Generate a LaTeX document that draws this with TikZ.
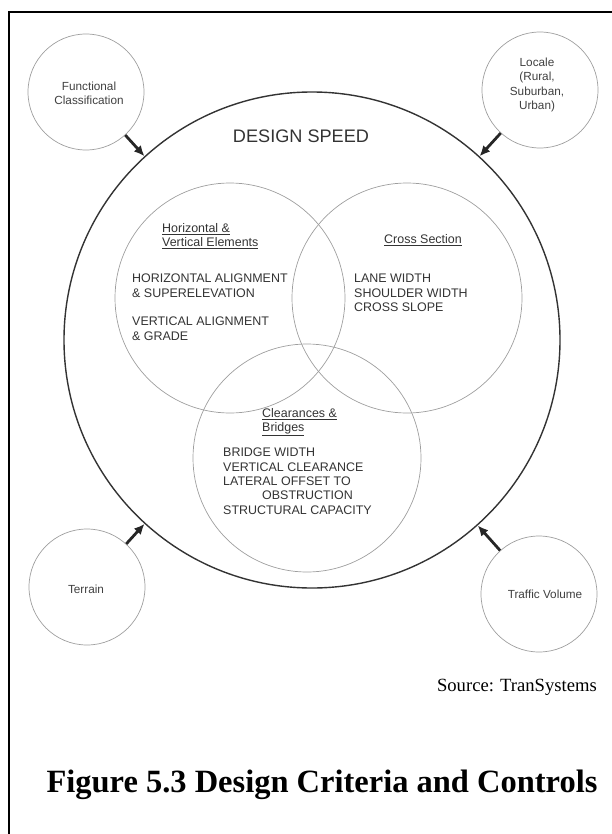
\documentclass[tikz,border=0pt]{standalone}
\usepackage{fontspec}
\setmainfont{Liberation Serif}
\setsansfont{Liberation Sans}
\usetikzlibrary{arrows.meta}
\begin{document}
\begin{tikzpicture}[x=1bp,y=-1bp,
  lite/.style={circle,draw=black!38,line width=0.7bp,inner sep=0pt},
  bigc/.style={circle,draw=black!80,line width=1.4bp,inner sep=0pt,minimum size=496bp},
  ctrl/.style={lite,minimum size=116bp},
  elem/.style={lite,minimum size=230bp},
  arr/.style={draw=black!85,line width=2.8bp,-{Latex[length=10.5bp,width=9.5bp]}},
  lab/.style={font=\sffamily\fontsize{11.8}{14.3}\selectfont,text=black!75,align=center,inner sep=0pt},
  body/.style={font=\sffamily\fontsize{12.5}{14.4}\selectfont,text=black!80,align=left,inner sep=0pt,anchor=north west},
]
\useasboundingbox (0,0) rectangle (612,834);
\draw[line width=2bp,line join=miter] (9,850) -- (9,12) -- (630,12);

\node[bigc] (big) at (312,340) {};
\node[elem] (hv) at (230,298) {};
\node[elem] (cs) at (407,298) {};
\node[lite,minimum size=228bp] (cb) at (307,458) {};
\node[ctrl] (fc) at (86,92) {};
\node[ctrl] (lo) at (540,90) {};
\node[ctrl] (te) at (87,587) {};
\node[ctrl] (tv) at (539,594) {};

\node[lab] (fct) at (89,93) {Functional\\Classification};
\node[lab] (lot) at (537,85) {Locale\\(Rural,\\Suburban,\\Urban)};
\node[lab] (tet) at (86,589) {Terrain};
\node[lab] (tvt) at (545,594) {Traffic Volume};
\node[font=\sffamily\fontsize{18.2}{20}\selectfont,text=black!80] (ds) at (301,136) {DESIGN SPEED};

\draw[arr] (fc) -- (big);
\draw[arr] (lo) -- (big);
\draw[arr] (te) -- (big);
\draw[arr] (tv) -- (big);

\node[body] (hvh) at (162,223) {\underline{Horizontal \&}\\\underline{Vertical Elements}};
\node[body] (hvb) at (132,274) {HORIZONTAL ALIGNMENT\\\& SUPERELEVATION\\[14.4bp]VERTICAL ALIGNMENT\\\& GRADE};
\node[body,anchor=north] (csh) at (423,234) {\underline{Cross Section}};
\node[body] (csb) at (354,274) {LANE WIDTH\\SHOULDER WIDTH\\CROSS SLOPE};
\node[body] (cbh) at (262,408) {\underline{Clearances \&}\\\underline{Bridges}};
\node[body] (cbb) at (223,448) {BRIDGE WIDTH\\VERTICAL CLEARANCE\\LATERAL OFFSET TO\\\hspace*{39bp}OBSTRUCTION\\STRUCTURAL CAPACITY};

\node[font=\fontsize{18.7}{20}\selectfont,anchor=east,inner sep=0pt] (src) at (597,687) {Source: TranSystems};
\node[font=\bfseries\fontsize{32.6}{36}\selectfont,inner sep=0pt] (ttl) at (322,785) {Figure 5.3 Design Criteria and Controls};
\end{tikzpicture}
\end{document}
